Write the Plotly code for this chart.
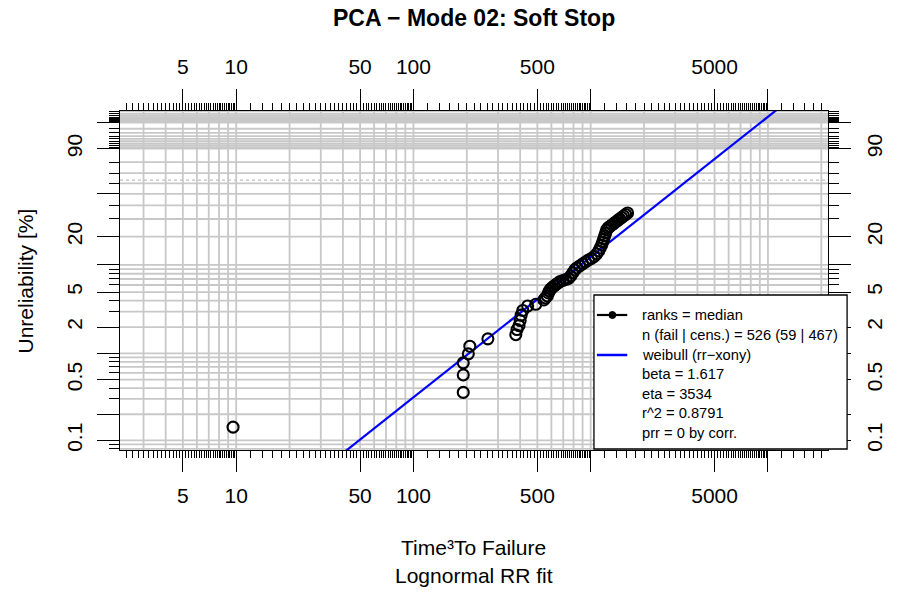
import numpy as np
import plotly.graph_objects as go

# ---------------- text ----------------
TITLE = "PCA − Mode 02: Soft Stop"
X_TITLE_1 = "Time³To Failure"
X_TITLE_2 = "Lognormal RR fit"
Y_TITLE = "Unreliability [%]"
LEGEND_TEXT = ["ranks = median",
               "n (fail | cens.) = 526 (59 | 467)",
               "weibull (rr−xony)",
               "beta = 1.617",
               "eta = 3534",
               "r^2 = 0.8791",
               "prr = 0 by corr."]

# ---------------- data ----------------
FAIL_TIME = [9.6, 191, 191, 191, 204, 208, 263, 378, 384, 394,
             400, 405, 414, 441, 490, 544, 555, 569, 577, 584,
             595, 607, 622, 638, 655, 672, 698, 725, 750, 772,
             792, 813, 834, 866, 900, 935, 971, 1009, 1048, 1082,
             1110, 1131, 1153, 1168, 1183, 1198, 1214, 1229, 1253, 1285,
             1318, 1352, 1386, 1422, 1459, 1497, 1535, 1575, 1615]
FAIL_UNREL_PCT = [0.142, 0.357, 0.567, 0.78, 0.99, 1.21, 1.47, 1.64, 1.88, 2.08,
                  2.38, 2.74, 3.10, 3.48, 3.64, 4.07, 4.29, 4.52, 4.88, 5.14,
                  5.42, 5.63, 5.85, 6.08, 6.32, 6.57, 6.74, 6.92, 7.10, 7.56,
                  8.17, 8.81, 9.27, 9.75, 10.25, 10.78, 11.33, 11.76, 12.37, 13.15,
                  14.17, 15.24, 16.40, 17.63, 18.95, 20.34, 21.83, 23.41, 24.53, 25.38,
                  26.26, 27.17, 28.10, 29.06, 30.04, 31.04, 32.07, 33.14, 34.2]

BETA = 1.617
ETA = 3534.0
ETA_LEVEL_PCT = 63.2

# ---------------- axes ----------------
X_LIMITS = [2.21, 21820]
Y_LIMITS_PCT = [0.0775, 99.81]
X_LABELED = [5, 10, 50, 100, 500, 5000]
X_LABELS = ["5", "10", "50", "100", "500", "5000"]
X_LONG_UNLABELED = [1000, 10000]
Y_LABELED_PCT = [0.1, 0.5, 2, 5, 20, 90]
Y_LABELS = ["0.1", "0.5", "2", "5", "20", "90"]
Y_LONG_UNLABELED_PCT = [0.2, 1, 10, 50, 99]


def wb(p_pct):
    p = np.asarray(p_pct, dtype=float) / 100.0
    return np.log(-np.log(1.0 - p))


# grid / tick positions
X_GRID = [m * 10 ** k for k in range(0, 5) for m in range(1, 10)
          if X_LIMITS[0] <= m * 10 ** k <= X_LIMITS[1]]
X_MINOR = [round(m * 0.2, 1) * 10 ** k for k in range(0, 5) for m in range(5, 50)
           if X_LIMITS[0] <= round(m * 0.2, 1) * 10 ** k <= X_LIMITS[1]]
Y_GRID_PCT = ([round(0.01 * i, 2) for i in range(8, 10)] +
              [round(0.1 * i, 1) for i in range(1, 10)] +
              list(range(1, 10)) + list(range(10, 100, 10)) +
              list(range(91, 100)) + [round(99 + 0.1 * i, 1) for i in range(1, 9)])
Y_GRID_PCT = [v for v in Y_GRID_PCT if Y_LIMITS_PCT[0] <= v <= Y_LIMITS_PCT[1]]

# ---------------- geometry ----------------
W, H = 898, 592
L, R, T, B = 120, 843, 111, 450
PW, PH = R - L, B - T


def px(xp):
    return (xp - L) / PW


def py(yp):
    return (B - yp) / PH


FONT = "Liberation Sans, Arial, Helvetica, sans-serif"
GRID = "#c8c8c8"

fig = go.Figure()

# fitted weibull line
t_line = np.array(X_LIMITS)
fig.add_trace(go.Scatter(x=t_line, y=BETA * np.log(t_line / ETA), mode="lines",
                         line=dict(color="#0000ff", width=2.2),
                         showlegend=False, hoverinfo="skip"))
# failure points
fig.add_trace(go.Scatter(x=FAIL_TIME, y=wb(FAIL_UNREL_PCT), mode="markers",
                         marker=dict(symbol="circle-open", size=11, color="black",
                                     line=dict(width=2.1, color="black")),
                         showlegend=False, cliponaxis=True))
# empty traces that activate the overlay axes (top/right and long unlabeled ticks)
for xa, ya in [("x2", "y2"), ("x3", "y3"), ("x4", "y4")]:
    fig.add_trace(go.Scatter(x=[None], y=[None], xaxis=xa, yaxis=ya,
                             showlegend=False, hoverinfo="skip"))

shapes = []
for xv in X_GRID:
    shapes.append(dict(type="line", xref="x", yref="paper", x0=xv, x1=xv, y0=0, y1=1,
                       line=dict(color=GRID, width=1.8), layer="below"))
for yv in wb(Y_GRID_PCT):
    shapes.append(dict(type="line", xref="paper", yref="y", x0=0, x1=1, y0=yv, y1=yv,
                       line=dict(color=GRID, width=1.8), layer="below"))
yeta = float(wb(ETA_LEVEL_PCT))
shapes.append(dict(type="line", xref="paper", yref="y", x0=0, x1=1, y0=yeta, y1=yeta,
                   line=dict(color="#c0c0c0", width=1.4, dash="dot"), layer="below"))

# legend box
shapes.append(dict(type="rect", xref="paper", yref="paper",
                   x0=px(604), x1=px(862.5), y0=py(449), y1=py(295),
                   fillcolor="white", line=dict(color="black", width=1.3), layer="above"))
leg_y = [315, 335, 355, 374, 393.5, 413, 432.5]
shapes.append(dict(type="line", xref="paper", yref="paper", x0=px(607), x1=px(638),
                   y0=py(leg_y[0]), y1=py(leg_y[0]), line=dict(color="black", width=2.2)))
shapes.append(dict(type="circle", xref="paper", yref="paper",
                   x0=px(619.3), x1=px(626.3), y0=py(318.5), y1=py(311.5),
                   fillcolor="black", line=dict(color="black", width=1)))
shapes.append(dict(type="line", xref="paper", yref="paper", x0=px(607), x1=px(638),
                   y0=py(leg_y[2]), y1=py(leg_y[2]), line=dict(color="#0000ff", width=2.5)))

ann = []
ann.append(dict(text="<b>" + TITLE + "</b>", x=px(481), y=py(18), xref="paper", yref="paper",
                showarrow=False, font=dict(size=23, family=FONT, color="black"),
                xanchor="center", yanchor="middle"))
ann.append(dict(text=X_TITLE_1, x=px(481), y=py(547), xref="paper", yref="paper",
                showarrow=False, font=dict(size=21, family=FONT, color="black"),
                xanchor="center", yanchor="middle"))
ann.append(dict(text=X_TITLE_2, x=px(481), y=py(575), xref="paper", yref="paper",
                showarrow=False, font=dict(size=21, family=FONT, color="black"),
                xanchor="center", yanchor="middle"))
ann.append(dict(text=Y_TITLE, x=px(24), y=py(280.5), xref="paper", yref="paper",
                showarrow=False, textangle=-90, font=dict(size=21, family=FONT, color="black"),
                xanchor="center", yanchor="middle"))
for txt, yy in zip(LEGEND_TEXT, leg_y):
    ann.append(dict(text=txt, x=px(651), y=py(yy), xref="paper", yref="paper",
                    showarrow=False, font=dict(size=14.7, family=FONT, color="black"),
                    xanchor="left", yanchor="middle"))

xrange = [float(np.log10(X_LIMITS[0])), float(np.log10(X_LIMITS[1]))]
yrange = [float(wb(Y_LIMITS_PCT[0])), float(wb(Y_LIMITS_PCT[1]))]
TICKFONT = dict(size=21, family=FONT, color="black")

xlab = dict(type="log", range=xrange, showgrid=False, zeroline=False,
            showline=True, linecolor="black", linewidth=1.4,
            ticks="outside", tickvals=X_LABELED, ticktext=X_LABELS,
            ticklen=21, tickwidth=1.4, tickcolor="black",
            tickfont=TICKFONT, ticklabelstandoff=6,
            minor=dict(tickvals=X_MINOR, ticks="outside", ticklen=7, tickwidth=1,
                       tickcolor="black", showgrid=False))
xlong = dict(type="log", range=xrange, showgrid=False, zeroline=False, showline=False,
             ticks="outside", tickvals=X_LONG_UNLABELED, ticklen=21, tickwidth=1.4,
             tickcolor="black", showticklabels=False)
ylab = dict(range=yrange, showgrid=False, zeroline=False,
            showline=True, linecolor="black", linewidth=1.4,
            ticks="outside", tickvals=list(wb(Y_LABELED_PCT)), ticktext=Y_LABELS,
            ticklen=22, tickwidth=1.4, tickcolor="black", tickangle=-90,
            tickfont=TICKFONT, ticklabelstandoff=6,
            minor=dict(tickvals=list(wb(Y_GRID_PCT)), ticks="outside", ticklen=10,
                       tickwidth=1, tickcolor="black", showgrid=False))
ylong = dict(range=yrange, showgrid=False, zeroline=False, showline=False,
             ticks="outside", tickvals=list(wb(Y_LONG_UNLABELED_PCT)), ticklen=22,
             tickwidth=1.4, tickcolor="black", showticklabels=False)

fig.update_layout(
    width=W, height=H,
    margin=dict(l=L, r=W - R, t=T, b=H - B, pad=0),
    paper_bgcolor="white", plot_bgcolor="white",
    showlegend=False,
    xaxis=dict(side="bottom", anchor="y", **xlab),
    xaxis2=dict(side="top", anchor="y", overlaying="x", **xlab),
    xaxis3=dict(side="bottom", anchor="y", overlaying="x", **xlong),
    xaxis4=dict(side="top", anchor="y", overlaying="x", **xlong),
    yaxis=dict(side="left", anchor="x", **ylab),
    yaxis2=dict(side="right", anchor="x", overlaying="y", **ylab),
    yaxis3=dict(side="left", anchor="x", overlaying="y", **ylong),
    yaxis4=dict(side="right", anchor="x", overlaying="y", **ylong),
    shapes=shapes, annotations=ann,
    font=dict(family=FONT, color="black"),
)

fig.write_html("out.html")
